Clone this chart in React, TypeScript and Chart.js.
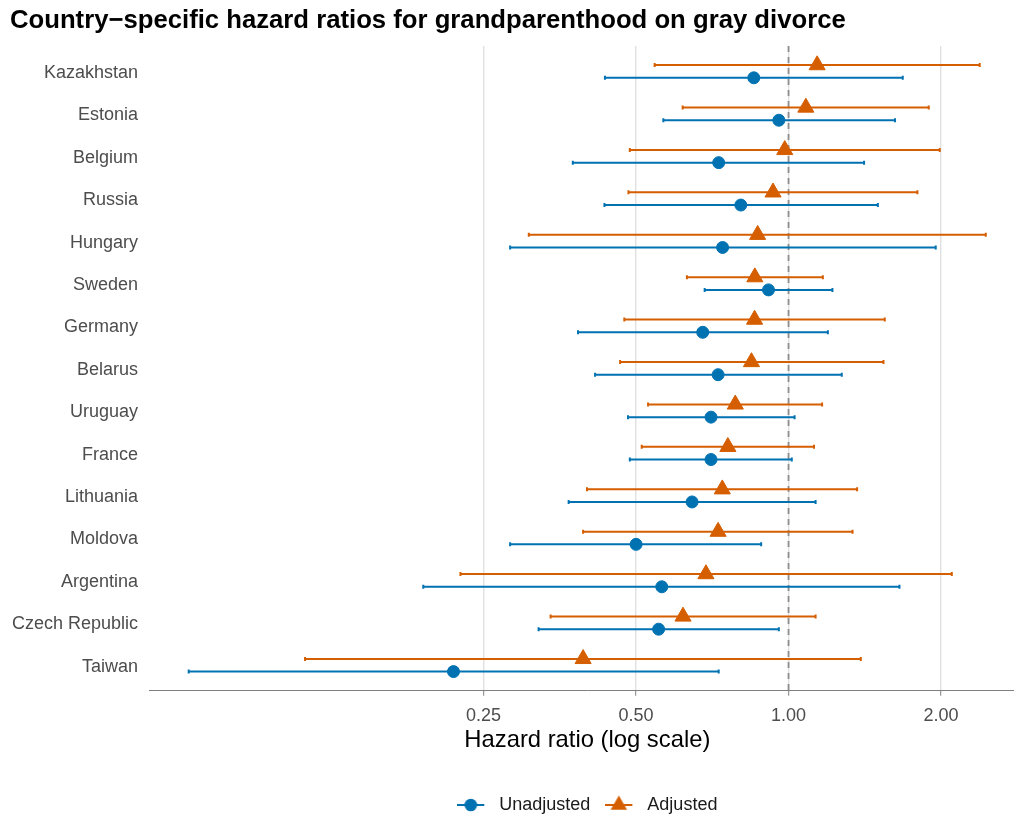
import { useEffect, useRef } from 'react';
import { Chart, registerables } from 'chart.js';

Chart.register(...registerables);

// ---------------- data ----------------
const countries = [
  'Kazakhstan', 'Estonia', 'Belgium', 'Russia', 'Hungary', 'Sweden', 'Germany',
  'Belarus', 'Uruguay', 'France', 'Lithuania', 'Moldova', 'Argentina',
  'Czech Republic', 'Taiwan',
];

const unadjustedHR = [0.854, 0.957, 0.728, 0.805, 0.741, 0.913, 0.677, 0.726, 0.703, 0.703, 0.645, 0.500, 0.562, 0.554, 0.218];
const unadjustedLower = [0.434, 0.566, 0.375, 0.433, 0.282, 0.683, 0.384, 0.415, 0.482, 0.486, 0.368, 0.282, 0.190, 0.321, 0.0654];
const unadjustedUpper = [1.681, 1.623, 1.410, 1.501, 1.953, 1.221, 1.196, 1.274, 1.028, 1.015, 1.131, 0.883, 1.656, 0.957, 0.728];

const adjustedHR = [1.139, 1.082, 0.983, 0.932, 0.869, 0.858, 0.857, 0.845, 0.785, 0.759, 0.740, 0.726, 0.687, 0.619, 0.393];
const adjustedLower = [0.544, 0.618, 0.486, 0.483, 0.307, 0.630, 0.474, 0.465, 0.528, 0.513, 0.400, 0.393, 0.225, 0.339, 0.111];
const adjustedUpper = [2.385, 1.892, 1.989, 1.797, 2.452, 1.169, 1.549, 1.540, 1.165, 1.123, 1.366, 1.338, 2.101, 1.131, 1.389];

const xTicks = [0.25, 0.5, 1, 2];
const referenceHR = 1;

const X_MIN = 0.0546;
const X_MAX = 2.94;
const DODGE = 0.15;

const BLUE = '#0072B2';
const ORANGE = '#D55E00';
const FONT = '"Liberation Sans", Arial, Helvetica, sans-serif';

function makeLegendIcon(color: string, shape: 'circle' | 'triangle') {
  const c = document.createElement('canvas');
  c.width = 33;
  c.height = 22;
  const ctx = c.getContext('2d')!;
  const cy = 11;
  ctx.strokeStyle = color;
  ctx.lineWidth = 2;
  ctx.beginPath();
  ctx.moveTo(0, cy);
  ctx.lineTo(27, cy);
  ctx.stroke();
  ctx.fillStyle = color;
  const cx = 13.5;
  if (shape === 'circle') {
    ctx.beginPath();
    ctx.arc(cx, cy, 6.3, 0, Math.PI * 2);
    ctx.fill();
  } else {
    const r = 9.5;
    ctx.beginPath();
    ctx.moveTo(cx, cy - r);
    ctx.lineTo(cx + r * Math.sin((2 * Math.PI) / 3), cy + r / 2);
    ctx.lineTo(cx - r * Math.sin((2 * Math.PI) / 3), cy + r / 2);
    ctx.closePath();
    ctx.fill();
  }
  return c;
}

function barData(lo: number[], hi: number[], offset: number) {
  const out: any[] = [];
  lo.forEach((l, i) => {
    out.push({ x: l, y: i + 1 + offset });
    out.push({ x: hi[i], y: i + 1 + offset });
    out.push({ x: null, y: null });
  });
  return out;
}

export default function App() {
  const ref = useRef<HTMLCanvasElement | null>(null);

  useEffect(() => {
    if (!ref.current) return;
    const icons = [makeLegendIcon(BLUE, 'circle'), makeLegendIcon(ORANGE, 'triangle')];

    const chart = new Chart(ref.current, {
      type: 'scatter',
      data: {
        datasets: [
          {
            label: 'Unadjusted',
            data: unadjustedHR.map((v, i) => ({ x: v, y: i + 1 + DODGE })),
            pointStyle: 'circle',
            pointRadius: 6,
            pointBorderWidth: 1,
            backgroundColor: BLUE,
            borderColor: BLUE,
            showLine: false,
          },
          {
            label: 'Adjusted',
            data: adjustedHR.map((v, i) => ({ x: v, y: i + 1 - DODGE })),
            pointStyle: 'triangle',
            pointRadius: 9.3,
            pointBorderWidth: 1,
            backgroundColor: ORANGE,
            borderColor: ORANGE,
            showLine: false,
          },
          {
            label: 'Unadjusted CI',
            data: barData(unadjustedLower, unadjustedUpper, DODGE),
            showLine: true,
            spanGaps: false,
            borderColor: BLUE,
            borderWidth: 2,
            backgroundColor: BLUE,
            pointStyle: 'line',
            pointRotation: 90,
            pointRadius: 2,
            pointBorderWidth: 2,
            pointBorderColor: BLUE,
          },
          {
            label: 'Adjusted CI',
            data: barData(adjustedLower, adjustedUpper, -DODGE),
            showLine: true,
            spanGaps: false,
            borderColor: ORANGE,
            borderWidth: 2,
            backgroundColor: ORANGE,
            pointStyle: 'line',
            pointRotation: 90,
            pointRadius: 2,
            pointBorderWidth: 2,
            pointBorderColor: ORANGE,
          },
          {
            label: 'Reference',
            data: [
              { x: referenceHR, y: 0.4 },
              { x: referenceHR, y: 15.6 },
            ],
            showLine: true,
            borderColor: '#8E8E8E',
            borderWidth: 1.8,
            borderDash: [6, 5],
            pointRadius: 0,
          },
        ] as any,
      },
      options: {
        animation: false,
        responsive: false,
        maintainAspectRatio: false,
        devicePixelRatio: 1,
        events: [],
        layout: { padding: { left: 10, right: 0, top: 0, bottom: 0 } },
        scales: {
          x: {
            type: 'logarithmic',
            position: 'bottom',
            min: X_MIN,
            max: X_MAX,
            bounds: 'data',
            afterBuildTicks: (s: any) => {
              s.ticks = xTicks.map((v) => ({ value: v }));
            },
            afterFit: (s: any) => {
              s.height = 90.3;
            },
            ticks: {
              autoSkip: false,
              maxRotation: 0,
              padding: 9.5,
              color: '#4D4D4D',
              font: { family: FONT, size: 18 },
              callback: (v: any) => Number(v).toFixed(2),
            },
            grid: {
              color: '#E0E0E0',
              lineWidth: 1.4,
              drawTicks: true,
              tickLength: 5,
              tickColor: '#7F7F7F',
              tickWidth: 1,
            },
            border: { display: true, color: '#7F7F7F', width: 1 },
            title: {
              display: true,
              text: 'Hazard ratio (log scale)',
              color: '#000000',
              font: { family: FONT, size: 23.8 },
              padding: { top: 0, bottom: 26 },
            },
          } as any,
          y: {
            type: 'linear',
            reverse: true,
            min: 0.4,
            max: 15.6,
            bounds: 'data',
            afterBuildTicks: (s: any) => {
              s.ticks = countries.map((_, i) => ({ value: i + 1 }));
            },
            afterFit: (s: any) => {
              s.width = 139;
            },
            ticks: {
              autoSkip: false,
              padding: 11,
              labelOffset: 1.5,
              color: '#4D4D4D',
              font: { family: FONT, size: 18 },
              callback: (v: any) => countries[Math.round(Number(v)) - 1],
            },
            grid: { display: false, drawTicks: false },
            border: { display: false },
          } as any,
        },
        plugins: {
          tooltip: { enabled: false },
          title: {
            display: true,
            text: 'Country\u2212specific hazard ratios for grandparenthood on gray divorce',
            align: 'start',
            color: '#000000',
            font: { family: FONT, size: 25.7, weight: 'bold' },
            padding: { top: 5.2, bottom: 9.96 },
          },
          legend: {
            display: true,
            position: 'bottom',
            fullSize: false,
            labels: {
              usePointStyle: true,
              pointStyleWidth: 33,
              padding: 15,
              color: '#1A1A1A',
              font: { family: FONT, size: 18 },
              generateLabels: (c: any) => {
                const items = (Chart.defaults.plugins.legend.labels as any)
                  .generateLabels(c)
                  .filter((it: any) => it.datasetIndex < 2);
                items.forEach((it: any) => {
                  it.pointStyle = icons[it.datasetIndex];
                });
                return items;
              },
            },
          } as any,
        },
      } as any,
    });

    return () => chart.destroy();
  }, []);

  return (
    <div style={{ position: 'absolute', left: 0, top: 0, width: 1014, height: 815, background: '#fff', overflow: 'hidden' }}>
      <canvas ref={ref} width={1036} height={824} style={{ display: 'block' }} />
    </div>
  );
}
